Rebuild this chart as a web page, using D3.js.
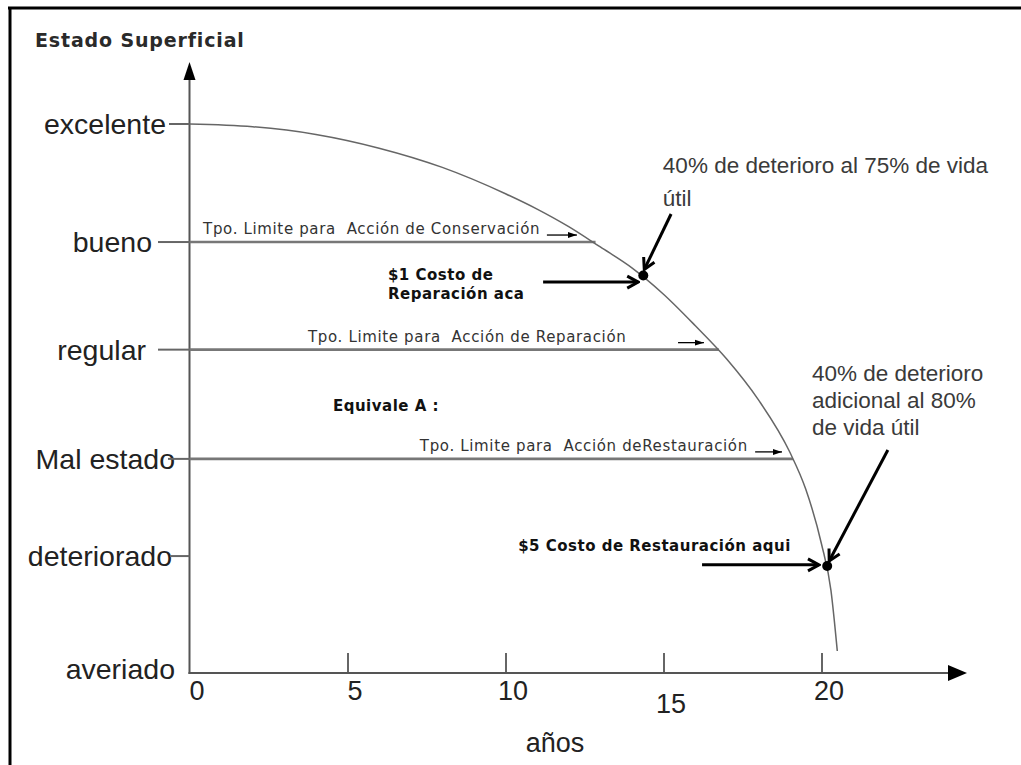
<!DOCTYPE html>
<html>
<head>
<meta charset="utf-8">
<script src="https://cdn.jsdelivr.net/npm/d3@7"></script>
<style>
  html, body { margin: 0; padding: 0; background: #fff; }
  svg { display: block; }
  text { white-space: pre; }
</style>
</head>
<body>
<svg id="chart" width="1021" height="765"></svg>
<script>
// ---------------- DATA ----------------
const levelNames = ["excelente", "bueno", "regular", "Mal estado", "deteriorado", "averiado"];
const levelValues = [100, 78.5, 58.9, 39, 21.3, 0];

const curveYears = [0, 2, 4, 6, 8, 10, 11, 12, 13, 14, 15, 16, 17, 18, 19, 19.5, 20, 20.3, 20.5];
const curveState = [100, 99.5, 98.1, 95.6, 92.1, 87.3, 84.5, 81.3, 77.6, 73.8, 69, 63.3, 57.2, 49.8, 40.2, 33.5, 23.5, 15, 4];

const xTickValues = [0, 5, 10, 15, 20];
const xTickLabels = ["0", "5", "10", "15", "20"];

const limitLabels = ["Tpo. Limite para  Acción de Conservación",
                     "Tpo. Limite para  Acción de Reparación",
                     "Tpo. Limite para  Acción deRestauración"];
const limitLevels = [78.5, 58.9, 39];
const limitEndYears = [12.85, 16.75, 19.1];
const limitTextYears = [0.43, 3.75, 7.29];
const limitArrowFrom = [11.31, 15.46, 17.9];
const limitArrowTo = [12.26, 16.28, 18.75];

const markYears = [14.36, 20.18];
const markState = [72.4, 19.5];

const costLines1 = ["$1 Costo de", "Reparación aca"];
const costLine2 = "$5 Costo de Restauración aqui";
const equivLabel = "Equivale A :";
const note1Lines = ["40% de deterioro al 75% de vida", "útil"];
const note2Lines = ["40% de deterioro", "adicional al 80%", "de vida útil"];

const yTitle = "Estado Superficial";
const xTitle = "años";

// ---------------- LAYOUT ----------------
const svg = d3.select("#chart");
const x = d3.scaleLinear().domain([0, 20]).range([189.5, 821.5]);
const y = d3.scaleLinear().domain([0, 100]).range([673, 124]);
const x0 = x(0), yBase = y(0);

// frame
svg.append("line").attr("x1", 8).attr("x2", 1021).attr("y1", 8).attr("y2", 8)
  .attr("stroke", "#000").attr("stroke-width", 3);
svg.append("line").attr("x1", 10).attr("x2", 10).attr("y1", 7).attr("y2", 765)
  .attr("stroke", "#000").attr("stroke-width", 3);

// markers
const defs = svg.append("defs");
defs.append("marker").attr("id", "bigHead").attr("viewBox", "-1 -8 14 16")
  .attr("markerUnits", "userSpaceOnUse").attr("markerWidth", 14).attr("markerHeight", 16)
  .attr("refX", 11).attr("refY", 0).attr("orient", "auto")
  .append("path").attr("d", "M0,-6 L11,0 L0,6").attr("fill", "none")
  .attr("stroke", "#000").attr("stroke-width", 3).attr("stroke-linejoin", "miter");
defs.append("marker").attr("id", "smallHead").attr("viewBox", "0 -4 9 8")
  .attr("markerUnits", "userSpaceOnUse").attr("markerWidth", 9).attr("markerHeight", 8)
  .attr("refX", 9).attr("refY", 0).attr("orient", "auto")
  .append("path").attr("d", "M0,-3 L9,0 L0,3 Z").attr("fill", "#000");

// y title
svg.append("text").attr("x", 35).attr("y", 47).text(yTitle)
  .attr("font-family", "DejaVu Sans").attr("font-weight", "bold")
  .attr("font-size", 19).attr("letter-spacing", 0.85).attr("fill", "#2a2a2a");

// y axis with arrow
svg.append("line").attr("x1", x0).attr("x2", x0).attr("y1", 74).attr("y2", yBase + 1)
  .attr("stroke", "#555").attr("stroke-width", 2);
svg.append("path").attr("d", d3.line()([[x0 - 6, 80], [x0, 62], [x0 + 6, 80]]) + "Z")
  .attr("fill", "#000");

// x axis (ticks pointing up)
const xAxis = d3.axisBottom(x).tickValues(xTickValues)
  .tickFormat((d, i) => xTickLabels[i]).tickSizeInner(-20).tickSizeOuter(0).tickPadding(0);
const gx = svg.append("g").attr("transform", `translate(0,${yBase})`).call(xAxis);
gx.select(".domain").remove();
gx.selectAll(".tick line").attr("stroke", "#333").attr("stroke-width", 1.5)
  .attr("display", d => d === 0 ? "none" : null);
gx.selectAll(".tick text")
  .attr("font-family", "Liberation Sans, Arial, sans-serif").attr("font-size", 27)
  .attr("fill", "#222").attr("dx", 7)
  .attr("y", d => d === 15 ? 40 : 27).attr("dy", 0);
svg.append("line").attr("x1", x0 - 1).attr("x2", 952).attr("y1", yBase).attr("y2", yBase)
  .attr("stroke", "#555").attr("stroke-width", 2);
svg.append("path").attr("d", d3.line()([[948, yBase - 8], [967, yBase], [948, yBase + 8]]) + "Z")
  .attr("fill", "#000");
svg.append("text").attr("x", 555).attr("y", 752).attr("text-anchor", "middle").text(xTitle)
  .attr("font-family", "Liberation Sans, Arial, sans-serif").attr("font-size", 27).attr("fill", "#222");

// level labels and stubs
const labelEnd = [166, 152, 146, 175, 172, 175];
const stubStart = [169, 158, 158, 168, 170, null];
const labelDy = [10, 10, 10, 10, 10, 6];
levelNames.forEach((name, i) => {
  const ly = y(levelValues[i]);
  svg.append("text").attr("x", labelEnd[i]).attr("y", ly + labelDy[i])
    .attr("text-anchor", "end").text(name)
    .attr("font-family", "Liberation Sans, Arial, sans-serif").attr("font-size", 28.5)
    .attr("fill", "#222");
  if (stubStart[i] !== null) {
    svg.append("line").attr("x1", stubStart[i]).attr("x2", x0).attr("y1", ly).attr("y2", ly)
      .attr("stroke", "#666").attr("stroke-width", 2);
  }
});

// limit lines
limitLevels.forEach((lv, i) => {
  const ly = y(lv);
  svg.append("line").attr("x1", x0).attr("x2", x(limitEndYears[i])).attr("y1", ly).attr("y2", ly)
    .attr("stroke", "#777").attr("stroke-width", 2.6);
  svg.append("text").attr("x", x(limitTextYears[i])).attr("y", ly - 8).text(limitLabels[i])
    .attr("font-family", "DejaVu Sans").attr("font-size", 15).attr("letter-spacing", 0.65)
    .attr("fill", "#333");
  svg.append("line").attr("x1", x(limitArrowFrom[i])).attr("x2", x(limitArrowTo[i]))
    .attr("y1", ly - 7).attr("y2", ly - 7)
    .attr("stroke", "#000").attr("stroke-width", 1.3).attr("marker-end", "url(#smallHead)");
});

// deterioration curve
const curveData = curveYears.map((t, i) => [t, curveState[i]]);
svg.append("path").datum(curveData)
  .attr("d", d3.line().x(d => x(d[0])).y(d => y(d[1])).curve(d3.curveMonotoneX))
  .attr("fill", "none").attr("stroke", "#666").attr("stroke-width", 1.5);

// bold cost annotations
const boldFont = sel => sel.attr("font-family", "DejaVu Sans").attr("font-weight", "bold")
  .attr("font-size", 15).attr("letter-spacing", 0.5).attr("fill", "#111");
costLines1.forEach((s, i) => {
  svg.append("text").attr("x", x(6.28)).attr("y", y(71.5) + i * 19).text(s).call(boldFont);
});
svg.append("text").attr("x", x(4.54)).attr("y", y(47.7)).text(equivLabel).call(boldFont);
svg.append("text").attr("x", x(10.4)).attr("y", y(22.2)).text(costLine2).call(boldFont);

// big horizontal arrows
const bigArrow = (x1, y1, x2, y2) => svg.append("line")
  .attr("x1", x1).attr("y1", y1).attr("x2", x2).attr("y2", y2)
  .attr("stroke", "#000").attr("stroke-width", 3).attr("marker-end", "url(#bigHead)");
bigArrow(x(11.19), y(71.2), x(14.2), y(71.2));
bigArrow(x(16.22), y(19.7), x(19.92), y(19.7));

// right notes
const noteFont = sel => sel.attr("font-family", "Liberation Sans, Arial, sans-serif")
  .attr("font-size", 22.5).attr("fill", "#3a3a3a");
note1Lines.forEach((s, i) => {
  svg.append("text").attr("x", x(14.98)).attr("y", 173 + i * 33).text(s).call(noteFont);
});
note2Lines.forEach((s, i) => {
  svg.append("text").attr("x", x(19.7)).attr("y", 381 + i * 27).text(s).call(noteFont);
});
// diagonal arrows to the marks
bigArrow(x(15.24), 214, x(14.36) + 1, y(72.4) - 6);
bigArrow(x(22.1), 450, x(20.18) + 2, y(19.5) - 5);

// marks
svg.selectAll("circle.mark").data(markYears).enter().append("circle").attr("class", "mark")
  .attr("cx", (d) => x(d)).attr("cy", (d, i) => y(markState[i])).attr("r", 5).attr("fill", "#000");
</script>
</body>
</html>
